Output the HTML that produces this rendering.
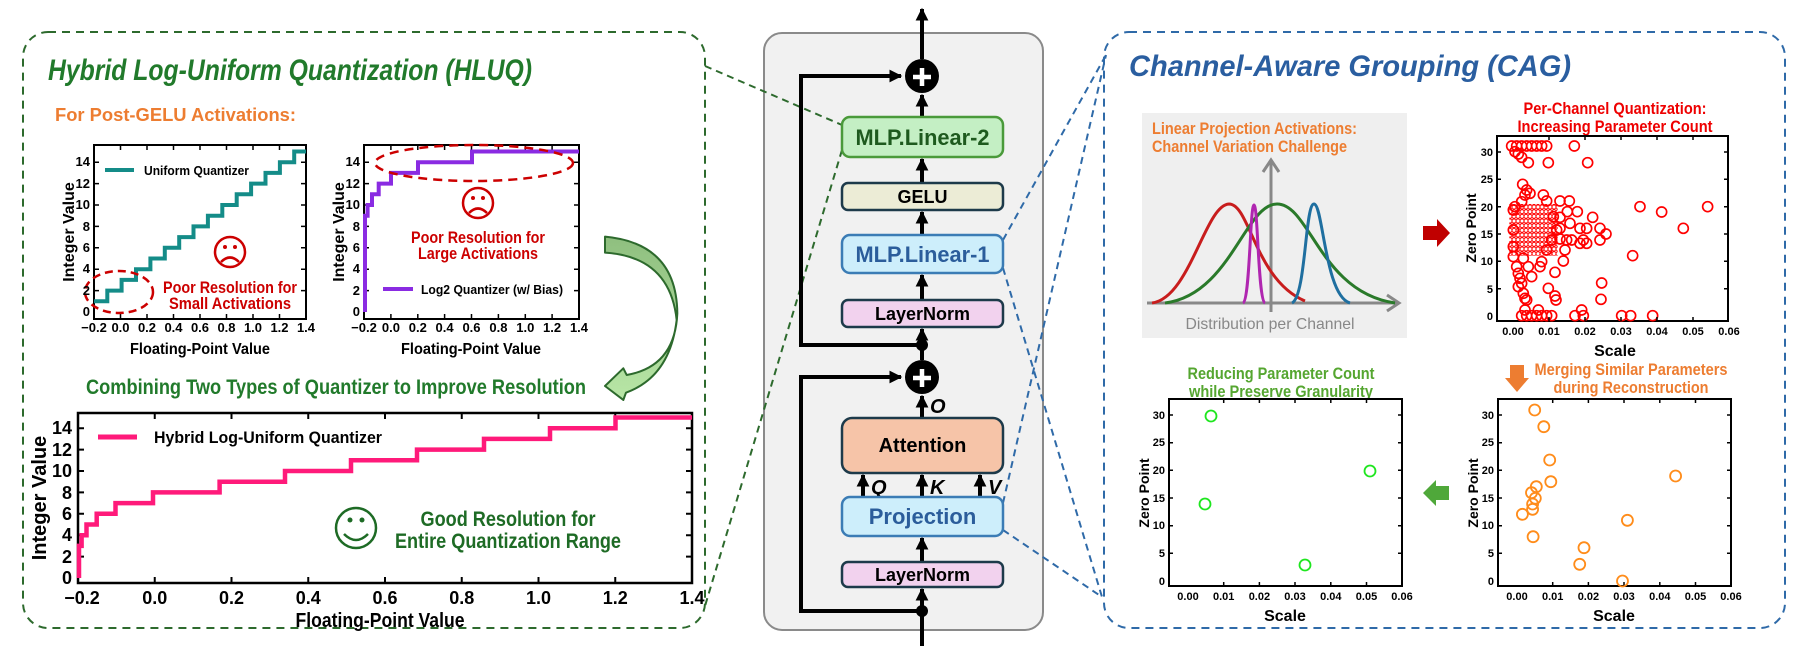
<!DOCTYPE html>
<html><head><meta charset="utf-8"><style>
html,body{margin:0;padding:0;background:#fff;}
svg{display:block;font-family:"Liberation Sans",Arial,sans-serif;font-weight:bold;}
</style></head><body>
<svg width="1808" height="646" viewBox="0 0 1808 646" xmlns="http://www.w3.org/2000/svg">
<defs>
<marker id="ah" viewBox="0 0 10 10" refX="9" refY="5" markerWidth="3.2" markerHeight="3.2" orient="auto-start-reverse"><path d="M0,0 L10,5 L0,10 z" fill="#000"/></marker>
<pattern id="rp" width="12" height="14" patternUnits="userSpaceOnUse"><circle cx="6" cy="7" r="6" fill="none" stroke="#f00" stroke-width="3"/></pattern>
<linearGradient id="ga" x1="0" y1="0" x2="0" y2="1"><stop offset="0" stop-color="#8fbf7f"/><stop offset="1" stop-color="#b8e6a6"/></linearGradient>
</defs>

<!-- LEFT PANEL -->
<rect x="23" y="32" width="682" height="596" rx="25" fill="none" stroke="#2d6a2d" stroke-width="2" stroke-dasharray="8 6"/>
<text x="48" y="80" font-size="30" font-style="italic" fill="#217a2b" textLength="484" lengthAdjust="spacingAndGlyphs">Hybrid Log-Uniform Quantization (HLUQ)</text>
<text x="55" y="121" font-size="18" fill="#ed7d31" textLength="241" lengthAdjust="spacingAndGlyphs">For Post-GELU Activations:</text>

<!-- Plot1 -->
<rect x="94" y="145" width="212" height="174" fill="none" stroke="#000" stroke-width="2"/>
<path d="M120.5,319v-5M147,319v-5M173.5,319v-5M200,319v-5M226.5,319v-5M253,319v-5M279.5,319v-5M120.5,145v5M147,145v5M173.5,145v5M200,145v5M226.5,145v5M253,145v5M279.5,145v5M94,290.6h5M94,269.2h5M94,247.8h5M94,226.4h5M94,205h5M94,183.6h5M94,162.2h5M306,290.6h-5M306,269.2h-5M306,247.8h-5M306,226.4h-5M306,205h-5M306,183.6h-5M306,162.2h-5" stroke="#000" stroke-width="1.5"/>
<path d="M94,301.3H107.3V290.6H121.6V279.9H136V269.2H150.4V258.5H164.8V247.8H179.2V237.1H193.5V226.4H207.9V215.7H222.3V205H236.7V194.3H251.1V183.6H265.5V172.9H279.9V162.2H294.2V151.5H306" fill="none" stroke="#148c88" stroke-width="4"/>
<line x1="105" y1="170" x2="134" y2="170" stroke="#148c88" stroke-width="4"/>
<text x="144" y="175" font-size="13" textLength="105" lengthAdjust="spacingAndGlyphs">Uniform Quantizer</text>
<ellipse cx="119" cy="292" rx="34" ry="21" fill="none" stroke="#c00" stroke-width="2.5" stroke-dasharray="8 5"/>
<g stroke="#c00" stroke-width="2.5" fill="none"><circle cx="230" cy="252" r="15"/><path d="M221,262 Q230,253 239,262"/></g>
<circle cx="225" cy="247" r="2" fill="#c00"/><circle cx="235" cy="247" r="2" fill="#c00"/>
<g font-size="17" fill="#c00" text-anchor="middle"><text x="230" y="293" textLength="134" lengthAdjust="spacingAndGlyphs">Poor Resolution for</text><text x="230" y="309" textLength="122" lengthAdjust="spacingAndGlyphs">Small Activations</text></g>
<g font-size="13" text-anchor="end"><text x="90" y="316">0</text><text x="90" y="295">2</text><text x="90" y="273">4</text><text x="90" y="252">6</text><text x="90" y="231">8</text><text x="90" y="209">10</text><text x="90" y="188">12</text><text x="90" y="166">14</text></g>
<g font-size="13" text-anchor="middle"><text x="94" y="332">−0.2</text><text x="120.5" y="332">0.0</text><text x="147" y="332">0.2</text><text x="173.5" y="332">0.4</text><text x="200" y="332">0.6</text><text x="226.5" y="332">0.8</text><text x="253" y="332">1.0</text><text x="279.5" y="332">1.2</text><text x="306" y="332">1.4</text></g>
<text transform="translate(74,232) rotate(-90)" font-size="16" text-anchor="middle">Integer Value</text>
<text x="200" y="354" font-size="16" text-anchor="middle" textLength="140" lengthAdjust="spacingAndGlyphs">Floating-Point Value</text>

<!-- Plot2 -->
<rect x="364" y="145" width="215" height="174" fill="none" stroke="#000" stroke-width="2"/>
<path d="M390.9,319v-5M417.8,319v-5M444.6,319v-5M471.5,319v-5M498.4,319v-5M525.3,319v-5M552.1,319v-5M390.9,145v5M417.8,145v5M444.6,145v5M471.5,145v5M498.4,145v5M525.3,145v5M552.1,145v5M364,290.6h5M364,269.2h5M364,247.8h5M364,226.4h5M364,205h5M364,183.6h5M364,162.2h5M579,290.6h-5M579,269.2h-5M579,247.8h-5M579,226.4h-5M579,205h-5M579,183.6h-5M579,162.2h-5" stroke="#000" stroke-width="1.5"/>
<path d="M365,312V215.7H367.6V205H372V194.3H378.7V183.6H391V172.9H418V162.2H472V151.5H579" fill="none" stroke="#8a2be2" stroke-width="4"/>
<line x1="383" y1="289" x2="413" y2="289" stroke="#8a2be2" stroke-width="4"/>
<text x="421" y="294" font-size="13" textLength="142" lengthAdjust="spacingAndGlyphs">Log2 Quantizer (w/ Bias)</text>
<ellipse cx="474" cy="163" rx="99" ry="18" fill="none" stroke="#c00" stroke-width="2.5" stroke-dasharray="9 6"/>
<g stroke="#c00" stroke-width="2.5" fill="none"><circle cx="478" cy="203" r="15"/><path d="M469,213 Q478,204 487,213"/></g>
<circle cx="473" cy="198" r="2" fill="#c00"/><circle cx="483" cy="198" r="2" fill="#c00"/>
<g font-size="17" fill="#c00" text-anchor="middle"><text x="478" y="243" textLength="134" lengthAdjust="spacingAndGlyphs">Poor Resolution for</text><text x="478" y="259" textLength="120" lengthAdjust="spacingAndGlyphs">Large Activations</text></g>
<g font-size="13" text-anchor="end"><text x="360" y="316">0</text><text x="360" y="295">2</text><text x="360" y="273">4</text><text x="360" y="252">6</text><text x="360" y="231">8</text><text x="360" y="209">10</text><text x="360" y="188">12</text><text x="360" y="166">14</text></g>
<g font-size="13" text-anchor="middle"><text x="364" y="332">−0.2</text><text x="390.9" y="332">0.0</text><text x="417.8" y="332">0.2</text><text x="444.6" y="332">0.4</text><text x="471.5" y="332">0.6</text><text x="498.4" y="332">0.8</text><text x="525.3" y="332">1.0</text><text x="552.1" y="332">1.2</text><text x="579" y="332">1.4</text></g>
<text transform="translate(344,232) rotate(-90)" font-size="16" text-anchor="middle">Integer Value</text>
<text x="471" y="354" font-size="16" text-anchor="middle" textLength="140" lengthAdjust="spacingAndGlyphs">Floating-Point Value</text>

<!-- curved arrow -->
<g transform="translate(560,220) scale(0.3333)">
<path d="M135,50 Q350,70 352,280 Q345,440 200,465 L190,445 L135,498 L190,540 L198,518 Q330,470 350,300 Q330,110 135,98 Z" fill="url(#ga)" stroke="#2d6a2d" stroke-width="6" stroke-linejoin="round"/>
</g>

<text x="86" y="394" font-size="21" fill="#217a2b" textLength="500" lengthAdjust="spacingAndGlyphs">Combining Two Types of Quantizer to Improve Resolution</text>

<!-- Bottom plot -->
<rect x="78" y="413" width="614" height="170" fill="none" stroke="#000" stroke-width="2.5"/>
<path d="M154.75,583v-6M231.5,583v-6M308.25,583v-6M385,583v-6M461.75,583v-6M538.5,583v-6M615.25,583v-6M154.75,413v6M231.5,413v6M308.25,413v6M385,413v6M461.75,413v6M538.5,413v6M615.25,413v6M78,556.6h6M78,535.2h6M78,513.8h6M78,492.4h6M78,471h6M78,449.6h6M78,428.2h6M692,556.6h-6M692,535.2h-6M692,513.8h-6M692,492.4h-6M692,471h-6M692,449.6h-6M692,428.2h-6" stroke="#000" stroke-width="2"/>
<path d="M79,578V545.9H81.6V535.2H86.5V524.5H96.7V513.8H115.5V503.1H153V492.4H219.6V481.7H285V471H351V460.3H417V449.6H484V438.9H550V428.2H615.5V417.5H692" fill="none" stroke="#ff1a7a" stroke-width="4.5"/>
<line x1="98" y1="437" x2="137" y2="437" stroke="#ff1a7a" stroke-width="5"/>
<text x="154" y="443" font-size="17" textLength="228" lengthAdjust="spacingAndGlyphs">Hybrid Log-Uniform Quantizer</text>
<g stroke="#1e6b25" stroke-width="2.5" fill="none"><circle cx="356" cy="528" r="20"/><path d="M344,534 Q356,546 368,534"/></g>
<circle cx="350" cy="520" r="2.5" fill="#1e6b25"/><circle cx="362" cy="520" r="2.5" fill="#1e6b25"/>
<g font-size="21" fill="#1e6b25" text-anchor="middle"><text x="508" y="526" textLength="175" lengthAdjust="spacingAndGlyphs">Good Resolution for</text><text x="508" y="548" textLength="226" lengthAdjust="spacingAndGlyphs">Entire Quantization Range</text></g>
<g font-size="18" text-anchor="end"><text x="72" y="584">0</text><text x="72" y="563">2</text><text x="72" y="541">4</text><text x="72" y="520">6</text><text x="72" y="499">8</text><text x="72" y="477">10</text><text x="72" y="456">12</text><text x="72" y="434">14</text></g>
<g font-size="18" text-anchor="middle"><text x="82" y="604">−0.2</text><text x="154.75" y="604">0.0</text><text x="231.5" y="604">0.2</text><text x="308.25" y="604">0.4</text><text x="385" y="604">0.6</text><text x="461.75" y="604">0.8</text><text x="538.5" y="604">1.0</text><text x="615.25" y="604">1.2</text><text x="692" y="604">1.4</text></g>
<text transform="translate(46,498) rotate(-90)" font-size="20" text-anchor="middle">Integer Value</text>
<text x="380" y="627" font-size="20" text-anchor="middle" textLength="169" lengthAdjust="spacingAndGlyphs">Floating-Point Value</text>

<!-- CENTER -->
<rect x="764" y="33" width="279" height="597" rx="18" fill="#f1f1f1" stroke="#8a8a8a" stroke-width="2"/>

<!-- connectors (on top of panel) -->
<g stroke="#2d6a2d" stroke-width="2" stroke-dasharray="7 5" fill="none"><line x1="705" y1="66" x2="842" y2="125"/><line x1="842" y1="150" x2="705" y2="606"/></g>
<g stroke="#2f6aa8" stroke-width="2" stroke-dasharray="7 5" fill="none"><line x1="1003" y1="240" x2="1106" y2="55"/><line x1="1003" y1="268" x2="1102" y2="597"/><line x1="1003" y1="503" x2="1106" y2="55"/><line x1="1003" y1="530" x2="1102" y2="597"/></g>

<g stroke="#000" stroke-width="4" fill="none">
<line x1="922" y1="59" x2="922" y2="9" marker-end="url(#ah)"/>
<line x1="922" y1="117" x2="922" y2="95" marker-end="url(#ah)"/>
<line x1="922" y1="183" x2="922" y2="159" marker-end="url(#ah)"/>
<line x1="922" y1="235" x2="922" y2="212" marker-end="url(#ah)"/>
<line x1="922" y1="300" x2="922" y2="275" marker-end="url(#ah)"/>
<line x1="922" y1="360" x2="922" y2="329" marker-end="url(#ah)"/>
<line x1="922" y1="418" x2="922" y2="396" marker-end="url(#ah)"/>
<line x1="863" y1="497" x2="863" y2="475" marker-end="url(#ah)"/>
<line x1="922" y1="497" x2="922" y2="475" marker-end="url(#ah)"/>
<line x1="980" y1="497" x2="980" y2="475" marker-end="url(#ah)"/>
<line x1="922" y1="562" x2="922" y2="538" marker-end="url(#ah)"/>
<line x1="922" y1="646" x2="922" y2="589" marker-end="url(#ah)"/>
<path d="M922,345H801V76H901" marker-end="url(#ah)"/>
<path d="M922,611H801V377H901" marker-end="url(#ah)"/>
</g>
<circle cx="922" cy="345" r="6" fill="#000"/><circle cx="922" cy="611" r="6" fill="#000"/>
<circle cx="922" cy="76" r="17" fill="#000"/><path d="M913,77h18M922,68v18" stroke="#fff" stroke-width="4.5"/>
<circle cx="922" cy="377" r="17" fill="#000"/><path d="M913,378h18M922,369v18" stroke="#fff" stroke-width="4.5"/>
<rect x="842" y="117" width="161" height="40" rx="8" fill="#c4efc4" stroke="#4a9a3a" stroke-width="2.5"/>
<text x="922.5" y="145" font-size="22" text-anchor="middle" fill="#1e5a1e" textLength="134" lengthAdjust="spacingAndGlyphs">MLP.Linear-2</text>
<rect x="842" y="183" width="161" height="27" rx="6" fill="#ececd6" stroke="#1d3a4a" stroke-width="2.5"/>
<text x="922.5" y="203" font-size="18" text-anchor="middle">GELU</text>
<rect x="842" y="235" width="161" height="38" rx="8" fill="#cdeefb" stroke="#3b7cb5" stroke-width="2.5"/>
<text x="922.5" y="262" font-size="22" text-anchor="middle" fill="#2b5d9b" textLength="134" lengthAdjust="spacingAndGlyphs">MLP.Linear-1</text>
<rect x="842" y="300" width="161" height="27" rx="6" fill="#f2d2ee" stroke="#1d3a4a" stroke-width="2.5"/>
<text x="922.5" y="320" font-size="18" text-anchor="middle">LayerNorm</text>
<text x="930" y="413" font-size="20" font-style="italic">O</text>
<rect x="842" y="418" width="161" height="55" rx="10" fill="#f6c4a8" stroke="#1d3a4a" stroke-width="2.5"/>
<text x="922.5" y="452" font-size="20" text-anchor="middle">Attention</text>
<g font-size="20" font-style="italic"><text x="871" y="494">Q</text><text x="930" y="494">K</text><text x="988" y="494">V</text></g>
<rect x="842" y="497" width="161" height="39" rx="8" fill="#cdeefb" stroke="#3b7cb5" stroke-width="2.5"/>
<text x="922.5" y="524" font-size="22" text-anchor="middle" fill="#2b5d9b">Projection</text>
<rect x="842" y="562" width="161" height="25" rx="6" fill="#f2d2ee" stroke="#1d3a4a" stroke-width="2.5"/>
<text x="922.5" y="581" font-size="18" text-anchor="middle">LayerNorm</text>

<!-- RIGHT PANEL -->
<rect x="1104" y="32" width="681" height="596" rx="25" fill="none" stroke="#2f6aa8" stroke-width="2" stroke-dasharray="8 6"/>
<text x="1129" y="76" font-size="30" font-style="italic" fill="#2a5ea0" textLength="442" lengthAdjust="spacingAndGlyphs">Channel-Aware Grouping (CAG)</text>

<rect x="1142" y="113" width="265" height="225" fill="#efefef"/>
<g font-size="17" fill="#ed7d31"><text x="1152" y="134" textLength="205" lengthAdjust="spacingAndGlyphs">Linear Projection Activations:</text><text x="1152" y="152" textLength="195" lengthAdjust="spacingAndGlyphs">Channel Variation Challenge</text></g>
<g stroke="#888" stroke-width="3" fill="none"><line x1="1271" y1="312" x2="1271" y2="162"/><path d="M1263,172 L1271,160 L1279,172"/><line x1="1147" y1="303" x2="1397" y2="303"/><path d="M1387,295 L1399,303 L1387,311"/></g>
<g fill="none" stroke-width="3">
<path d="M1152,303 C1190,298 1205,205 1229,204 C1250,204 1255,280 1305,301" stroke="#c81d1d"/>
<path d="M1165,303 C1230,295 1245,204 1277,204 C1310,204 1320,292 1395,303" stroke="#2a7a2a"/>
<path d="M1243,303 C1250,300 1250,205 1254,205 C1258,205 1258,300 1265,303" stroke="#b026b0"/>
<path d="M1292,303 C1306,296 1305,204 1314,204 C1323,204 1325,296 1350,303" stroke="#1f6fa0"/>
</g>
<text x="1270" y="329" font-size="16" fill="#888" font-weight="normal" text-anchor="middle" textLength="169" lengthAdjust="spacingAndGlyphs">Distribution per Channel</text>

<polygon points="1423,226 1437,226 1437,219 1450,233 1437,247 1437,240 1423,240" fill="#c00000"/>

<!-- Top-right scatter -->
<g font-size="17" fill="#e00" text-anchor="middle"><text x="1615" y="114" textLength="183" lengthAdjust="spacingAndGlyphs">Per-Channel Quantization:</text><text x="1615" y="132" textLength="195" lengthAdjust="spacingAndGlyphs">Increasing Parameter Count</text></g>
<rect x="1497" y="136" width="231" height="185" fill="#fff" stroke="#000" stroke-width="2"/>
<g transform="translate(1480,130) scale(0.3333)">
<rect x="88" y="222" width="145" height="155" fill="url(#rp)"/>
<g fill="none" stroke="#f00" stroke-width="5">
<circle cx="95" cy="48" r="15"/><circle cx="110" cy="48" r="15"/><circle cx="125" cy="48" r="15"/><circle cx="140" cy="48" r="15"/><circle cx="155" cy="48" r="15"/><circle cx="170" cy="48" r="15"/><circle cx="185" cy="48" r="15"/><circle cx="200" cy="48" r="15"/><circle cx="283" cy="48" r="15"/>
<circle cx="105" cy="65" r="15"/><circle cx="115" cy="72" r="15"/><circle cx="125" cy="82" r="15"/><circle cx="145" cy="98" r="15"/><circle cx="205" cy="98" r="15"/><circle cx="323" cy="98" r="15"/>
<circle cx="128" cy="163" r="15"/><circle cx="140" cy="180" r="15"/><circle cx="150" cy="190" r="15"/><circle cx="135" cy="195" r="15"/><circle cx="125" cy="215" r="15"/><circle cx="105" cy="230" r="15"/>
<circle cx="240" cy="213" r="15"/><circle cx="268" cy="213" r="15"/><circle cx="262" cy="245" r="15"/><circle cx="292" cy="245" r="15"/><circle cx="338" cy="262" r="15"/><circle cx="240" cy="262" r="15"/><circle cx="270" cy="280" r="15"/><circle cx="240" cy="295" r="15"/><circle cx="300" cy="295" r="15"/><circle cx="320" cy="295" r="15"/><circle cx="360" cy="295" r="15"/><circle cx="378" cy="312" r="15"/><circle cx="310" cy="330" r="15"/><circle cx="300" cy="340" r="15"/><circle cx="320" cy="340" r="15"/><circle cx="260" cy="330" r="15"/><circle cx="240" cy="327" r="15"/><circle cx="360" cy="330" r="15"/><circle cx="275" cy="330" r="15"/><circle cx="200" cy="213" r="15"/><circle cx="190" cy="195" r="15"/><circle cx="220" cy="260" r="15"/><circle cx="230" cy="300" r="15"/><circle cx="215" cy="330" r="15"/><circle cx="200" cy="360" r="15"/><circle cx="100" cy="240" r="15"/><circle cx="100" cy="300" r="15"/><circle cx="100" cy="350" r="15"/>
<circle cx="480" cy="230" r="15"/><circle cx="545" cy="246" r="15"/><circle cx="683" cy="230" r="15"/><circle cx="610" cy="295" r="15"/><circle cx="458" cy="377" r="15"/><circle cx="255" cy="360" r="15"/><circle cx="250" cy="393" r="15"/><circle cx="225" cy="427" r="15"/><circle cx="205" cy="475" r="15"/><circle cx="365" cy="459" r="15"/><circle cx="363" cy="508" r="15"/><circle cx="225" cy="498" r="15"/><circle cx="228" cy="510" r="15"/><circle cx="305" cy="540" r="15"/><circle cx="285" cy="557" r="15"/><circle cx="310" cy="557" r="15"/><circle cx="425" cy="557" r="15"/><circle cx="452" cy="557" r="15"/><circle cx="518" cy="557" r="15"/>
<circle cx="110" cy="410" r="15"/><circle cx="115" cy="430" r="15"/><circle cx="120" cy="445" r="15"/><circle cx="125" cy="460" r="15"/><circle cx="145" cy="410" r="15"/><circle cx="185" cy="395" r="15"/><circle cx="180" cy="410" r="15"/><circle cx="155" cy="440" r="15"/><circle cx="115" cy="470" r="15"/><circle cx="130" cy="490" r="15"/><circle cx="135" cy="505" r="15"/><circle cx="140" cy="510" r="15"/><circle cx="100" cy="380" r="15"/><circle cx="130" cy="385" r="15"/><circle cx="175" cy="540" r="15"/><circle cx="135" cy="540" r="15"/>
<circle cx="125" cy="557" r="15"/><circle cx="140" cy="557" r="15"/><circle cx="155" cy="557" r="15"/><circle cx="170" cy="557" r="15"/><circle cx="185" cy="557" r="15"/><circle cx="200" cy="557" r="15"/><circle cx="215" cy="557" r="15"/>
</g></g>
<path d="M1549,321v-4M1585,321v-4M1621,321v-4M1657,321v-4M1693,321v-4M1549,136v4M1585,136v4M1621,136v4M1657,136v4M1693,136v4M1497,288.7h4M1497,261.3h4M1497,234h4M1497,206.7h4M1497,179.3h4M1497,152h4M1728,288.7h-4M1728,261.3h-4M1728,234h-4M1728,206.7h-4M1728,179.3h-4M1728,152h-4" stroke="#000" stroke-width="1.5"/>
<g font-size="11" text-anchor="end"><text x="1493" y="320">0</text><text x="1493" y="293">5</text><text x="1493" y="265">10</text><text x="1493" y="238">15</text><text x="1493" y="211">20</text><text x="1493" y="183">25</text><text x="1493" y="156">30</text></g>
<g font-size="11" text-anchor="middle"><text x="1513" y="335">0.00</text><text x="1549" y="335">0.01</text><text x="1585" y="335">0.02</text><text x="1621" y="335">0.03</text><text x="1657" y="335">0.04</text><text x="1693" y="335">0.05</text><text x="1729" y="335">0.06</text></g>
<text x="1615" y="356" font-size="16" text-anchor="middle">Scale</text>
<text transform="translate(1476,228) rotate(-90)" font-size="14" text-anchor="middle">Zero Point</text>

<!-- Orange arrow -->
<polygon points="1510,365 1524,365 1524,378 1529,378 1517,392 1505,378 1510,378" fill="#ed7d31"/>
<g font-size="17" fill="#ed7d31" text-anchor="middle"><text x="1631" y="375" textLength="193" lengthAdjust="spacingAndGlyphs">Merging Similar Parameters</text><text x="1631" y="393" textLength="155" lengthAdjust="spacingAndGlyphs">during Reconstruction</text></g>

<!-- Bottom-right scatter -->
<rect x="1498" y="399" width="233" height="187" fill="#fff" stroke="#000" stroke-width="2"/>
<path d="M1552.7,586v-4M1588.4,586v-4M1624,586v-4M1659.8,586v-4M1695.5,586v-4M1552.7,399v4M1588.4,399v4M1624,399v4M1659.8,399v4M1695.5,399v4M1498,553.3h4M1498,525.7h4M1498,498h4M1498,470.3h4M1498,442.7h4M1498,415h4M1731,553.3h-4M1731,525.7h-4M1731,498h-4M1731,470.3h-4M1731,442.7h-4M1731,415h-4" stroke="#000" stroke-width="1.5"/>
<g fill="none" stroke="#ff8c1a" stroke-width="1.8">
<circle cx="1534.7" cy="410" r="5.5"/><circle cx="1543.8" cy="426.7" r="5.5"/><circle cx="1549.7" cy="460" r="5.5"/><circle cx="1550.8" cy="481.7" r="5.5"/><circle cx="1536.3" cy="486.7" r="5.5"/><circle cx="1531.5" cy="492.7" r="5.5"/><circle cx="1535.3" cy="498.3" r="5.5"/><circle cx="1532.6" cy="504" r="5.5"/><circle cx="1532.6" cy="509.3" r="5.5"/><circle cx="1522.4" cy="514.3" r="5.5"/><circle cx="1533.1" cy="536.7" r="5.5"/><circle cx="1584" cy="547.7" r="5.5"/><circle cx="1579.7" cy="564.3" r="5.5"/><circle cx="1622.5" cy="581" r="5.5"/><circle cx="1627.4" cy="520.3" r="5.5"/><circle cx="1675.6" cy="476" r="5.5"/>
</g>
<g font-size="11" text-anchor="end"><text x="1494" y="585">0</text><text x="1494" y="557">5</text><text x="1494" y="529">10</text><text x="1494" y="502">15</text><text x="1494" y="474">20</text><text x="1494" y="446">25</text><text x="1494" y="419">30</text></g>
<g font-size="11" text-anchor="middle"><text x="1517" y="600">0.00</text><text x="1552.7" y="600">0.01</text><text x="1588.4" y="600">0.02</text><text x="1624" y="600">0.03</text><text x="1659.8" y="600">0.04</text><text x="1695.5" y="600">0.05</text><text x="1731" y="600">0.06</text></g>
<text x="1614" y="621" font-size="16" text-anchor="middle">Scale</text>
<text transform="translate(1478,493) rotate(-90)" font-size="14" text-anchor="middle">Zero Point</text>

<!-- Green arrow -->
<polygon points="1423,493 1436,480 1436,486 1449,486 1449,500 1436,500 1436,506" fill="#4fa83a"/>

<!-- Bottom-left scatter -->
<g font-size="17" fill="#55a630" text-anchor="middle"><text x="1281" y="379" textLength="187" lengthAdjust="spacingAndGlyphs">Reducing Parameter Count</text><text x="1281" y="397" textLength="184" lengthAdjust="spacingAndGlyphs">while Preserve Granularity</text></g>
<rect x="1169" y="399" width="233" height="187" fill="#fff" stroke="#000" stroke-width="2"/>
<path d="M1223.7,586v-4M1259.4,586v-4M1295,586v-4M1330.8,586v-4M1366.5,586v-4M1223.7,399v4M1259.4,399v4M1295,399v4M1330.8,399v4M1366.5,399v4M1169,553.3h4M1169,525.7h4M1169,498h4M1169,470.3h4M1169,442.7h4M1169,415h4M1402,553.3h-4M1402,525.7h-4M1402,498h-4M1402,470.3h-4M1402,442.7h-4M1402,415h-4" stroke="#000" stroke-width="1.5"/>
<g fill="none" stroke="#1ee61e" stroke-width="1.8"><circle cx="1211" cy="416" r="5.5"/><circle cx="1205" cy="504" r="5.5"/><circle cx="1370" cy="471" r="5.5"/><circle cx="1305" cy="565" r="5.5"/></g>
<g font-size="11" text-anchor="end"><text x="1165" y="585">0</text><text x="1165" y="557">5</text><text x="1165" y="529">10</text><text x="1165" y="502">15</text><text x="1165" y="474">20</text><text x="1165" y="446">25</text><text x="1165" y="419">30</text></g>
<g font-size="11" text-anchor="middle"><text x="1188" y="600">0.00</text><text x="1223.7" y="600">0.01</text><text x="1259.4" y="600">0.02</text><text x="1295" y="600">0.03</text><text x="1330.8" y="600">0.04</text><text x="1366.5" y="600">0.05</text><text x="1402" y="600">0.06</text></g>
<text x="1285" y="621" font-size="16" text-anchor="middle">Scale</text>
<text transform="translate(1149,493) rotate(-90)" font-size="14" text-anchor="middle">Zero Point</text>
</svg>
</body></html>
